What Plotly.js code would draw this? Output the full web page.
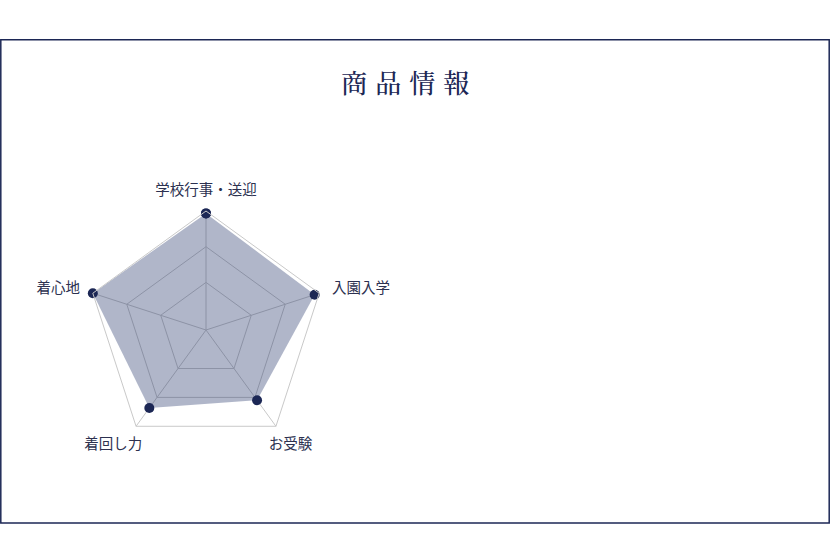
<!DOCTYPE html>
<html>
<head>
<meta charset="utf-8">
<script src="https://cdn.plot.ly/plotly-3.0.1.min.js"></script>
<style>
  html, body { margin: 0; padding: 0; background: #fff; }
  #chart { width: 830px; height: 539px; }
  .gtitle { letter-spacing: 8px; }
</style>
</head>
<body>
<div id="chart"></div>
<script>
// 評価項目と値 (外周 = 5)
const categories = ['学校行事・送迎', '入園入学', 'お受験', '着回し力', '着心地'];
const scores = [4.9, 4.8, 3.65, 4.05, 5.0];
const centerValue = [0];
const gridLevels = [2.0, 3.5];
const maxScore = 5;

const navy = '#1c2755';
const gridGray = '#c9c9c9';

// 塗りつぶしは最初の点に戻して閉じる
const closedTheta = categories.concat(categories[0]);
const closedR = scores.concat(scores[0]);

const trazas = [
  {
    type: 'scatterpolar',
    theta: closedTheta,
    r: closedR,
    mode: 'lines+markers',
    fill: 'toself',
    fillcolor: 'rgba(30,45,100,0.35)',
    line: { color: 'rgba(0,0,0,0)', width: 1 },
    marker: { color: navy, size: 10 },
    hoverinfo: 'skip'
  },
  {
    type: 'scatterpolar',
    theta: [categories[0]],
    r: centerValue,
    mode: 'markers',
    marker: { color: navy, size: 10 },
    hoverinfo: 'skip'
  }
];

const layout = {
  width: 830,
  height: 539,
  margin: { l: 0, r: 0, t: 0, b: 0 },
  paper_bgcolor: '#fff',
  showlegend: false,
  title: {
    text: '商品情報',
    x: 0.493,
    xanchor: 'center',
    y: 1 - 84 / 539,
    yanchor: 'middle',
    yref: 'container',
    font: { family: '"Noto Serif CJK JP", "Noto Sans CJK JP", serif', size: 26, color: navy, weight: 500 }
  },
  polar: {
    domain: { x: [87 / 830, 325 / 830], y: [(539 - 449) / 539, (539 - 211) / 539] },
    gridshape: 'linear',
    bgcolor: 'rgba(0,0,0,0)',
    radialaxis: {
      range: [0, maxScore],
      tickvals: gridLevels,
      showticklabels: false,
      ticks: '',
      showline: false,
      gridcolor: gridGray,
      gridwidth: 1
    },
    angularaxis: {
      direction: 'clockwise',
      rotation: 90,
      ticks: 'outside',
      ticklen: 10,
      tickcolor: 'rgba(0,0,0,0)',
      linecolor: gridGray,
      linewidth: 1,
      gridcolor: gridGray,
      tickfont: { family: '"Noto Sans CJK JP", sans-serif', size: 14.5, color: '#2c3150' }
    }
  },
  shapes: [
    {
      type: 'rect',
      xref: 'paper', yref: 'paper',
      x0: 0.8 / 830, x1: 829.2 / 830,
      y0: (539 - 523) / 539, y1: (539 - 39.8) / 539,
      line: { color: navy, width: 1.5 },
      layer: 'below'
    }
  ]
};

Plotly.newPlot('chart', trazas, layout, { displayModeBar: false, staticPlot: true }).then(gd => {
  // 下側の2ラベルは少し内側に寄せる
  const bottomLabels = { 'お受験': -15, '着回し力': 14 };
  gd.querySelectorAll('text').forEach(t => {
    const dx = bottomLabels[t.textContent];
    if (dx === undefined) return;
    const tr = t.getAttribute('transform') || '';
    t.setAttribute('transform', tr + ' translate(' + dx + ',-3)');
  });
});
</script>
</body>
</html>
